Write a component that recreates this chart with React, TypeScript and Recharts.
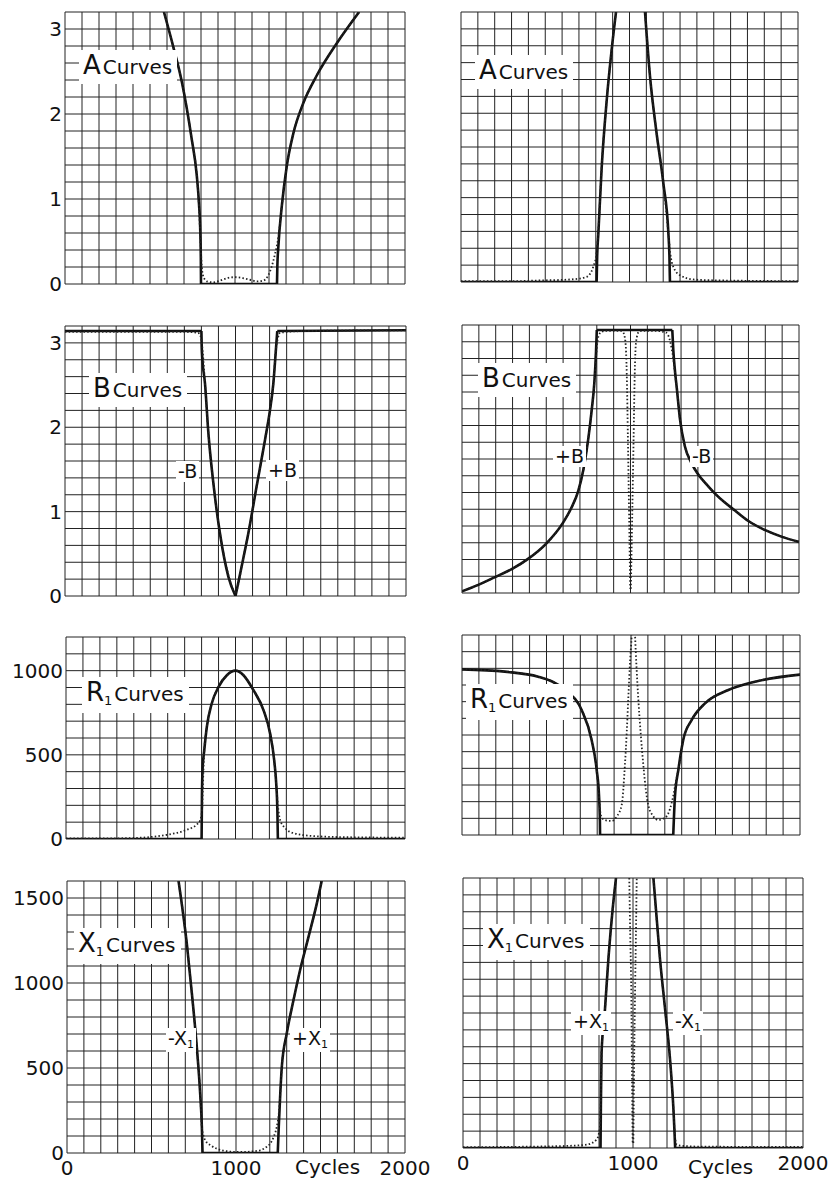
import React from 'react';
import { LineChart, Line, XAxis, YAxis, CartesianGrid } from 'recharts';

type Pt = [number, number];

// grid ticks (one line per tick)
const xGrid = [0, 100, 200, 300, 400, 500, 600, 700, 800, 900, 1000, 1100, 1200, 1300, 1400, 1500, 1600, 1700, 1800, 1900, 2000];
const abGrid = [0, 0.2, 0.4, 0.6, 0.8, 1, 1.2, 1.4, 1.6, 1.8, 2, 2.2, 2.4, 2.6, 2.8, 3, 3.2];
const rGrid = [0, 100, 200, 300, 400, 500, 600, 700, 800, 900, 1000, 1100, 1200];
const x1Grid = [0, 100, 200, 300, 400, 500, 600, 700, 800, 900, 1000, 1100, 1200, 1300, 1400, 1500, 1600];

// tick labels
const abLabels = [0, 1, 2, 3];
const rLabels = [0, 500, 1000];
const x1Labels = [0, 500, 1000, 1500];
const cycleLabels = [0, 1000, 2000];

// A curves, left (band pass)
const aLoSolid: Pt[] = [[582, 3.2], [637, 2.79], [686, 2.39], [716, 2.07], [745, 1.71], [775, 1.28], [788, 0.95], [796, 0.6], [799, 0.3], [800, 0]];
const aLoFlat: Pt[] = [[800, 0], [1247, 0]];
const aLoSolidR: Pt[] = [[1247, 0], [1249, 0.2], [1255, 0.44], [1275, 0.91], [1304, 1.38], [1343, 1.77], [1402, 2.13], [1480, 2.45], [1598, 2.83], [1730, 3.2]];
const aLoDot: Pt[] = [[582, 3.2], [637, 2.79], [686, 2.39], [716, 2.07], [745, 1.71], [775, 1.28], [788, 0.92], [796, 0.55], [803, 0.25], [812, 0.1], [835, 0.03], [872, 0.02], [912, 0.04], [955, 0.07], [1000, 0.08], [1045, 0.07], [1088, 0.05], [1130, 0.03], [1167, 0.04], [1195, 0.1], [1215, 0.2], [1235, 0.35], [1255, 0.55], [1275, 0.91], [1304, 1.38], [1343, 1.77], [1402, 2.13], [1480, 2.45], [1598, 2.83], [1730, 3.2]];

// A curves, right (band stop)
const aHiFlatL: Pt[] = [[0, 0], [805, 0]];
const aHiSolidL: Pt[] = [[805, 0], [808, 0.3], [815, 0.57], [835, 1.36], [865, 2.16], [894, 2.75], [920, 3.2]];
const aHiSolidR: Pt[] = [[1092, 3.2], [1122, 2.43], [1161, 1.76], [1201, 1.17], [1231, 0.57], [1237, 0.3], [1240, 0]];
const aHiFlatR: Pt[] = [[1240, 0], [2000, 0]];
const aHiDotL: Pt[] = [[0, 0.01], [300, 0.01], [500, 0.02], [650, 0.03], [745, 0.06], [785, 0.18], [805, 0.35], [815, 0.6], [835, 1.36], [865, 2.16], [894, 2.75], [920, 3.2]];
const aHiDotR: Pt[] = [[1092, 3.2], [1122, 2.43], [1161, 1.76], [1201, 1.17], [1231, 0.57], [1242, 0.34], [1260, 0.18], [1300, 0.08], [1379, 0.03], [1500, 0.02], [2000, 0.01]];

// B curves, left
const bLoFlatL: Pt[] = [[0, 3.14], [800, 3.14]];
const bLoSolidL: Pt[] = [[800, 3.14], [802, 2.95], [806, 2.8], [821, 2.52], [841, 1.93], [870, 1.34], [909, 0.74], [958, 0.23], [1000, 0]];
const bLoSolidR: Pt[] = [[1000, 0], [1036, 0.35], [1075, 0.74], [1124, 1.3], [1173, 1.85], [1202, 2.2], [1222, 2.52], [1237, 2.92], [1245, 3.14]];
const bLoFlatR: Pt[] = [[1245, 3.14], [2000, 3.15]];
const bLoDotL: Pt[] = [[0, 3.13], [700, 3.13], [780, 3.12], [795, 3.08], [805, 2.95], [815, 2.7], [821, 2.52], [841, 1.93], [870, 1.34], [909, 0.74], [958, 0.25], [985, 0.08], [1000, 0.04]];
const bLoDotR: Pt[] = [[1000, 0.04], [1015, 0.12], [1036, 0.35], [1075, 0.74], [1124, 1.3], [1173, 1.85], [1202, 2.2], [1222, 2.52], [1237, 2.92], [1248, 3.05], [1262, 3.12], [1400, 3.14], [2000, 3.15]];

// B curves, right
const bHiSolidL: Pt[] = [[0, 0.02], [100, 0.1], [196, 0.19], [300, 0.29], [394, 0.41], [500, 0.59], [600, 0.84], [650, 1.02], [690, 1.22], [720, 1.47], [750, 1.85], [770, 2.19], [785, 2.5], [795, 2.86], [800, 3.14]];
const bHiFlat: Pt[] = [[800, 3.14], [1248, 3.14]];
const bHiSolidR: Pt[] = [[1248, 3.14], [1254, 2.9], [1264, 2.65], [1274, 2.46], [1294, 2.07], [1323, 1.75], [1360, 1.56], [1400, 1.42], [1450, 1.3], [1500, 1.19], [1560, 1.08], [1620, 0.985], [1700, 0.86], [1800, 0.75], [1900, 0.67], [2000, 0.61]];
const bHiDotL: Pt[] = [[0, 0.02], [100, 0.1], [196, 0.19], [300, 0.29], [394, 0.41], [500, 0.59], [600, 0.84], [650, 1.02], [690, 1.22], [720, 1.47], [750, 1.85], [770, 2.19], [785, 2.5], [795, 2.8], [805, 3.02], [818, 3.1], [850, 3.13], [940, 3.13], [957, 3.11], [970, 3.0], [978, 2.6], [985, 1.8], [992, 0.9], [998, 0.05]];
const bHiDotR: Pt[] = [[1002, 0.05], [1010, 0.9], [1018, 1.8], [1025, 2.6], [1033, 3.0], [1050, 3.12], [1070, 3.13], [1150, 3.13], [1210, 3.11], [1232, 3.03], [1244, 2.92], [1254, 2.8], [1264, 2.62], [1274, 2.46], [1294, 2.07], [1323, 1.75], [1360, 1.56], [1400, 1.42], [1450, 1.3], [1500, 1.19], [1560, 1.08], [1620, 0.985], [1700, 0.86], [1800, 0.75], [1900, 0.67], [2000, 0.61]];

// R1 curves, left
const rLoFlatL: Pt[] = [[0, 0], [800, 0]];
const rLoDome: Pt[] = [[800, 0], [802, 250], [806, 420], [815, 520], [831, 667], [860, 805], [900, 904], [949, 973], [1000, 1000], [1047, 973], [1106, 884], [1165, 766], [1204, 628], [1228, 470], [1240, 332], [1247, 170], [1250, 0]];
const rLoFlatR: Pt[] = [[1250, 0], [2000, 0]];
const rLoDot: Pt[] = [[0, 3], [300, 4], [399, 6], [500, 12], [595, 25], [713, 55], [770, 85], [791, 110], [803, 175], [808, 330], [815, 510], [831, 667], [860, 805], [900, 904], [949, 973], [1000, 1000], [1047, 973], [1106, 884], [1165, 766], [1204, 628], [1228, 470], [1240, 332], [1250, 200], [1263, 114], [1293, 65], [1342, 35], [1479, 16], [1700, 10], [2000, 8]];

// R1 curves, right
const rHiSolidL: Pt[] = [[0, 994], [254, 980], [451, 950], [609, 870], [708, 750], [767, 570], [797, 390], [811, 230], [816, 80], [817, 0]];
const rHiFlat: Pt[] = [[817, 0], [1250, 0]];
const rHiSolidR: Pt[] = [[1250, 0], [1260, 230], [1280, 390], [1309, 570], [1359, 690], [1438, 790], [1576, 870], [1734, 920], [2000, 962]];
const rHiDotL: Pt[] = [[0, 994], [254, 980], [451, 950], [609, 870], [708, 750], [767, 570], [797, 390], [811, 230], [818, 140], [830, 100], [860, 86], [886, 84], [915, 110], [945, 180], [964, 420], [975, 620], [984, 820], [995, 1050], [1004, 1200], [1014, 1500]];
const rHiDotR: Pt[] = [[1014, 1500], [1024, 1200], [1033, 1000], [1043, 820], [1058, 600], [1073, 420], [1088, 270], [1102, 180], [1130, 115], [1162, 90], [1195, 100], [1221, 130], [1240, 190], [1255, 260], [1265, 320], [1280, 390], [1309, 570], [1359, 690], [1438, 790], [1576, 870], [1734, 920], [2000, 962]];

// X1 curves, left
const xLoSolidL: Pt[] = [[660, 1600], [709, 1231], [739, 937], [768, 624], [788, 349], [798, 153], [802, 0]];
const xLoFlat: Pt[] = [[802, 0], [1247, 0]];
const xLoSolidR: Pt[] = [[1247, 0], [1253, 153], [1262, 350], [1271, 506], [1300, 702], [1340, 898], [1379, 1075], [1429, 1271], [1478, 1467], [1507, 1600]];
const xLoDot: Pt[] = [[660, 1600], [709, 1231], [739, 937], [768, 624], [788, 349], [798, 153], [808, 100], [818, 75], [850, 45], [887, 25], [950, 10], [1000, 6], [1044, 6], [1100, 10], [1143, 16], [1180, 35], [1202, 55], [1225, 100], [1241, 153], [1255, 250], [1262, 350], [1271, 506], [1300, 702], [1340, 898], [1379, 1075], [1429, 1271], [1478, 1467], [1507, 1600]];

// X1 curves, right
const xHiFlatL: Pt[] = [[0, 0], [809, 0]];
const xHiSolidL: Pt[] = [[809, 0], [811, 250], [815, 563], [835, 820], [855, 1117], [880, 1413], [900, 1600]];
const xHiSolidR: Pt[] = [[1120, 1600], [1159, 1117], [1189, 820], [1218, 524], [1238, 227], [1244, 100], [1248, 0]];
const xHiFlatR: Pt[] = [[1248, 0], [2000, 0]];
const xHiDotL: Pt[] = [[0, 5], [400, 8], [600, 12], [727, 20], [786, 50], [805, 120], [811, 300], [815, 563], [835, 820], [855, 1117], [880, 1413], [900, 1600]];
const xHiSpikeL: Pt[] = [[978, 1600], [984, 1250], [990, 919], [994, 450], [998, 30]];
const xHiSpikeR: Pt[] = [[1002, 30], [1006, 450], [1012, 919], [1017, 1250], [1022, 1600]];
const xHiDotR: Pt[] = [[1120, 1600], [1159, 1117], [1189, 820], [1218, 524], [1238, 227], [1246, 80], [1257, 20], [1277, 14], [1400, 8], [2000, 6]];

const FONT = '"DejaVu Sans", sans-serif';
const toRows = (p: Pt[]) => p.map(([x, y]) => ({ x, y }));

interface PanelProps {
  left: number;
  top: number;
  w: number;
  h: number;
  yMax: number;
  yGrid: number[];
  yLabels?: number[];
  showX?: boolean;
  solid: Pt[][];
  dotted: Pt[][];
}

function Panel({ left, top, w, h, yMax, yGrid, yLabels, showX, solid, dotted }: PanelProps) {
  const yW = yLabels ? 60 : 1;
  const mLeft = yLabels ? 5 : 4;
  const mRight = 30;
  const mTop = 12;
  const xH = showX ? 26 : 12;
  const width = mLeft + yW + w + mRight;
  const height = mTop + h + xH + 2;
  const tickStyle = { fontFamily: FONT, fontSize: 20, fill: '#111' };
  return (
    <div style={{ position: 'absolute', left: left - mLeft - yW, top: top - mTop }}>
      <LineChart width={width} height={height} margin={{ top: mTop, right: mRight, left: mLeft, bottom: 2 }}>
        <CartesianGrid stroke="#222" strokeWidth={1} />
        <XAxis
          type="number"
          dataKey="x"
          domain={[0, 2000]}
          ticks={xGrid}
          interval={0}
          allowDataOverflow
          height={xH}
          tickLine={false}
          axisLine={false}
          tickSize={3}
          tickMargin={5}
          tick={tickStyle}
          tickFormatter={(v: number) => (showX && cycleLabels.includes(v) ? String(v) : '')}
        />
        <YAxis
          type="number"
          domain={[0, yMax]}
          ticks={yGrid}
          interval={0}
          allowDataOverflow
          width={yW}
          tickLine={false}
          axisLine={false}
          tickSize={3}
          tickMargin={0}
          tick={tickStyle}
          tickFormatter={(v: number) => (yLabels && yLabels.includes(v) ? String(v) : '')}
        />
        {solid.map((s, i) => (
          <Line key={'s' + i} data={toRows(s)} dataKey="y" type="monotone" stroke="#111" strokeWidth={2.6} dot={false} isAnimationActive={false} />
        ))}
        {dotted.map((s, i) => (
          <Line key={'d' + i} data={toRows(s)} dataKey="y" type="monotone" stroke="#222" strokeWidth={1.8} strokeDasharray="1.5 2.2" dot={false} isAnimationActive={false} />
        ))}
      </LineChart>
    </div>
  );
}

function Title({ x, base, letter, sub }: { x: number; base: number; letter: string; sub?: string }) {
  return (
    <div style={{ position: 'absolute', left: x - 4, top: base - 24, padding: '3px 5px 4px 4px', background: '#fff', fontFamily: FONT, fontSize: 26, lineHeight: '25px', color: '#111', whiteSpace: 'nowrap' }}>
      <span>{letter}</span>
      {sub && <span style={{ fontSize: 13, position: 'relative', top: 4 }}>{sub}</span>}
      <span style={{ fontSize: 20, marginLeft: 2 }}>Curves</span>
    </div>
  );
}

function Tag({ x, base, text, sub }: { x: number; base: number; text: string; sub?: string }) {
  return (
    <div style={{ position: 'absolute', left: x - 2, top: base - 17, padding: '1px 2px', background: '#fff', fontFamily: FONT, fontSize: 19, lineHeight: '19px', color: '#111', whiteSpace: 'nowrap' }}>
      {text}
      {sub && <span style={{ fontSize: 11, position: 'relative', top: 3 }}>{sub}</span>}
    </div>
  );
}

function Cycles({ x }: { x: number }) {
  return (
    <div style={{ position: 'absolute', left: x, top: 1157, fontFamily: FONT, fontSize: 20, lineHeight: '20px', color: '#111' }}>Cycles</div>
  );
}

export default function App() {
  return (
    <div style={{ position: 'absolute', left: 0, top: 0, width: 838, height: 1180, background: '#fff' }}>
      <Panel left={65} top={12} w={340} h={272} yMax={3.2} yGrid={abGrid} yLabels={abLabels} solid={[aLoSolid, aLoFlat, aLoSolidR]} dotted={[aLoDot]} />
      <Panel left={461} top={12} w={337} h={270} yMax={3.2} yGrid={abGrid} solid={[aHiFlatL, aHiSolidL, aHiSolidR, aHiFlatR]} dotted={[aHiDotL, aHiDotR]} />
      <Panel left={65} top={326} w={341} h={270} yMax={3.2} yGrid={abGrid} yLabels={abLabels} solid={[bLoFlatL, bLoSolidL, bLoSolidR, bLoFlatR]} dotted={[bLoDotL, bLoDotR]} />
      <Panel left={462} top={325} w={337} h={268} yMax={3.2} yGrid={abGrid} solid={[bHiSolidL, bHiFlat, bHiSolidR]} dotted={[bHiDotL, bHiDotR]} />
      <Panel left={66} top={637} w={339} h={202} yMax={1200} yGrid={rGrid} yLabels={rLabels} solid={[rLoFlatL, rLoDome, rLoFlatR]} dotted={[rLoDot]} />
      <Panel left={462} top={635} w={338} h={200} yMax={1200} yGrid={rGrid} solid={[rHiSolidL, rHiFlat, rHiSolidR]} dotted={[rHiDotL, rHiDotR]} />
      <Panel left={67} top={881} w={338} h={272} yMax={1600} yGrid={x1Grid} yLabels={x1Labels} showX solid={[xLoSolidL, xLoFlat, xLoSolidR]} dotted={[xLoDot]} />
      <Panel left={463} top={878} w={340} h={270} yMax={1600} yGrid={x1Grid} showX solid={[xHiFlatL, xHiSolidL, xHiSolidR, xHiFlatR]} dotted={[xHiDotL, xHiSpikeL, xHiSpikeR, xHiDotR]} />

      <Title x={83} base={74} letter="A" />
      <Title x={479} base={79} letter="A" />
      <Title x={93} base={397} letter="B" />
      <Title x={482} base={387} letter="B" />
      <Title x={86} base={701} letter="R" sub="1" />
      <Title x={470} base={708} letter="R" sub="1" />
      <Title x={78} base={952} letter="X" sub="1" />
      <Title x={487} base={948} letter="X" sub="1" />

      <Tag x={178} base={478} text="-B" />
      <Tag x={268} base={477} text="+B" />
      <Tag x={555} base={463} text="+B" />
      <Tag x={692} base={463} text="-B" />
      <Tag x={168} base={1045} text="-X" sub="1" />
      <Tag x={292} base={1045} text="+X" sub="1" />
      <Tag x={573} base={1028} text="+X" sub="1" />
      <Tag x={675} base={1028} text="-X" sub="1" />

      <Cycles x={295} />
      <Cycles x={688} />
    </div>
  );
}
